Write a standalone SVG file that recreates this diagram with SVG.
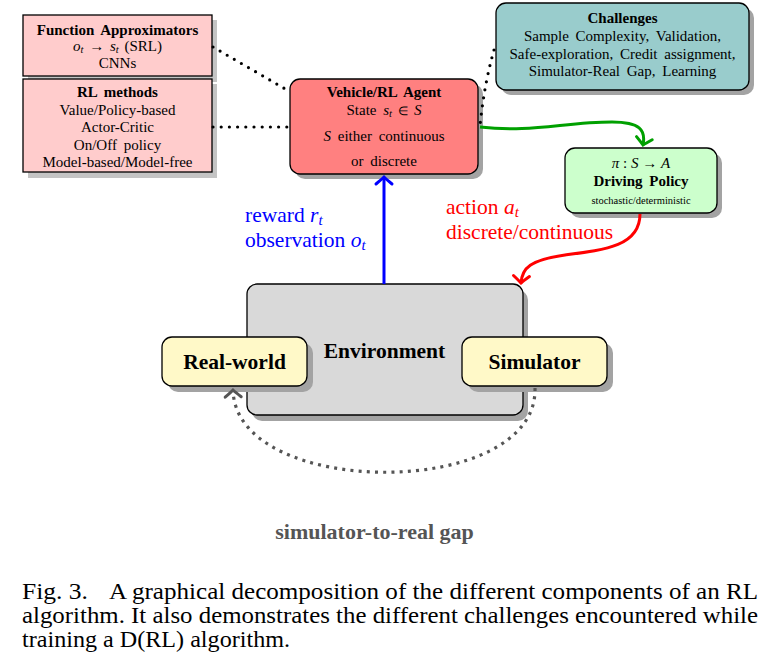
<svg xmlns="http://www.w3.org/2000/svg" width="766" height="659" viewBox="0 0 766 659">
<style>
text{font-family:"Liberation Serif","Times New Roman",serif;fill:#000}
.b{font-weight:bold}
.i{font-style:italic}
.box{stroke:#000;stroke-width:1.3}
.sh{fill:#a3a3a3}
.shl{fill:#c4c4c4}
.dot{fill:none;stroke:#000;stroke-width:3.2;stroke-linecap:round;stroke-dasharray:0 8.2}
</style>
<defs>
<marker id="aB" markerUnits="userSpaceOnUse" markerWidth="20" markerHeight="20" refX="0" refY="0" viewBox="-10 -10 20 20" orient="auto" overflow="visible">
<path d="M-7,-8 Q-2,-2 0,0 Q-2,2 -7,8" fill="none" stroke="#0000ff" stroke-width="3" stroke-linecap="round"/>
</marker>
<marker id="aR" markerUnits="userSpaceOnUse" markerWidth="20" markerHeight="20" refX="0" refY="0" viewBox="-10 -10 20 20" orient="auto" overflow="visible">
<path d="M-7,-8 Q-2,-2 0,0 Q-2,2 -7,8" fill="none" stroke="#ff0000" stroke-width="3" stroke-linecap="round"/>
</marker>
<marker id="aG" markerUnits="userSpaceOnUse" markerWidth="20" markerHeight="20" refX="0" refY="0" viewBox="-10 -10 20 20" orient="auto" overflow="visible">
<path d="M-7,-8 Q-2,-2 0,0 Q-2,2 -7,8" fill="none" stroke="#00a000" stroke-width="3" stroke-linecap="round"/>
</marker>
<marker id="aK" markerUnits="userSpaceOnUse" markerWidth="20" markerHeight="20" refX="0" refY="0" viewBox="-10 -10 20 20" orient="auto" overflow="visible">
<path d="M-7,-8 Q-2,-2 0,0 Q-2,2 -7,8" fill="none" stroke="#555" stroke-width="3" stroke-linecap="round"/>
</marker>
</defs>
<rect width="766" height="659" fill="#fff"/>

<g id="function-approximators">
<rect class="shl" x="28" y="20" width="189" height="62"/>
<rect class="box" x="23" y="15" width="189" height="61" fill="#ffcccc"/>
<text x="117.5" y="35" text-anchor="middle" font-size="15" class="b" word-spacing="3">Function Approximators</text>
<text x="117.5" y="51" text-anchor="middle" font-size="15" word-spacing="2"><tspan class="i">o</tspan><tspan class="i" font-size="10.5" dy="2">t</tspan><tspan dy="-2"> → </tspan><tspan class="i">s</tspan><tspan class="i" font-size="10.5" dy="2">t</tspan><tspan dy="-2"> (SRL)</tspan></text>
<text x="117.5" y="68" text-anchor="middle" font-size="15">CNNs</text>
</g>

<g id="rl-methods">
<rect class="shl" x="28" y="84" width="189" height="94"/>
<rect class="box" x="23" y="79" width="189" height="93" fill="#ffcccc"/>
<text x="117.5" y="97" text-anchor="middle" font-size="15" class="b" word-spacing="3">RL methods</text>
<text x="117.5" y="115" text-anchor="middle" font-size="15">Value/Policy-based</text>
<text x="117.5" y="132" text-anchor="middle" font-size="15">Actor-Critic</text>
<text x="117.5" y="150" text-anchor="middle" font-size="15" word-spacing="3">On/Off policy</text>
<text x="117.5" y="167" text-anchor="middle" font-size="15">Model-based/Model-free</text>
</g>

<g id="agent">
<rect class="sh" x="295" y="84" width="188" height="95" rx="10"/>
<rect class="box" x="290" y="79" width="188" height="95" rx="10" fill="#ff8080"/>
<text x="384" y="97" text-anchor="middle" font-size="15" class="b" word-spacing="3">Vehicle/RL Agent</text>
<text x="384" y="115" text-anchor="middle" font-size="15" word-spacing="3">State <tspan class="i">s</tspan><tspan class="i" font-size="10.5" dy="2">t</tspan><tspan dy="-2" font-size="12"> ∈ </tspan><tspan class="i">S</tspan></text>
<text x="384" y="141" text-anchor="middle" font-size="15" word-spacing="3"><tspan class="i">S</tspan> either continuous</text>
<text x="384" y="166" text-anchor="middle" font-size="15" word-spacing="3">or discrete</text>
</g>

<g id="challenges">
<rect class="sh" x="501" y="8" width="253" height="87" rx="10"/>
<rect class="box" x="496" y="3" width="253" height="87" rx="10" fill="#99cccc"/>
<text x="622.5" y="23" text-anchor="middle" font-size="15" class="b">Challenges</text>
<text x="622.5" y="41" text-anchor="middle" font-size="15" word-spacing="3">Sample Complexity, Validation,</text>
<text x="622.5" y="59" text-anchor="middle" font-size="15" word-spacing="3">Safe-exploration, Credit assignment,</text>
<text x="622.5" y="76" text-anchor="middle" font-size="15" word-spacing="3">Simulator-Real Gap, Learning</text>
</g>

<g id="driving-policy">
<rect class="sh" x="570" y="153" width="152" height="65" rx="10"/>
<rect class="box" x="565" y="148" width="152" height="65" rx="10" fill="#ccffcc"/>
<text x="641" y="168" text-anchor="middle" font-size="15"><tspan class="i">π</tspan> : <tspan class="i">S</tspan> → <tspan class="i">A</tspan></text>
<text x="641" y="186" text-anchor="middle" font-size="15" class="b" word-spacing="3">Driving Policy</text>
<text x="641" y="204" text-anchor="middle" font-size="10.5">stochastic/deterministic</text>
</g>

<g id="environment">
<rect class="sh" x="252" y="290" width="276" height="131" rx="10"/>
<rect class="box" x="247" y="284" width="276" height="131" rx="10" fill="#d9d9d9"/>
<text x="384.5" y="358" text-anchor="middle" font-size="21.5" class="b">Environment</text>
</g>

<g id="real-world">
<rect class="sh" x="168" y="343" width="145" height="49" rx="10"/>
<rect class="box" x="162" y="337" width="145" height="49" rx="10" fill="#fff9c8"/>
<text x="234.5" y="369" text-anchor="middle" font-size="21.5" class="b">Real-world</text>
</g>

<g id="simulator">
<rect class="sh" x="468" y="343" width="145" height="49" rx="10"/>
<rect class="box" x="462" y="337" width="145" height="49" rx="10" fill="#fff9c8"/>
<text x="534.5" y="369" text-anchor="middle" font-size="21.5" class="b">Simulator</text>
</g>

<g id="connectors">
<path class="dot" d="M213,47 L287,90"/>
<path class="dot" d="M213,127 L288,127"/>
<path class="dot" d="M494,50 Q484,85 480,126"/>
<path d="M480,127 C530,133 565,122 612,122 C640,122 646,130 643,145" fill="none" stroke="#00a000" stroke-width="3" marker-end="url(#aG)"/>
<path d="M640,214 C640,246 605,250 565,255 C530,260 522,268 521,283" fill="none" stroke="#ff0000" stroke-width="3" marker-end="url(#aR)"/>
<path d="M384,284 L384,177" fill="none" stroke="#0000ff" stroke-width="3" marker-end="url(#aB)"/>
<path d="M535,388 C538,500 236,500 233,390" fill="none" stroke="#555" stroke-width="3.2" stroke-dasharray="3 5.2" marker-end="url(#aK)"/>
</g>

<g id="labels">
<text x="245" y="222" font-size="21.5" style="fill:#0000ff">reward <tspan class="i">r</tspan><tspan class="i" font-size="15" dy="3">t</tspan></text>
<text x="245" y="247" font-size="21.5" style="fill:#0000ff">observation <tspan class="i">o</tspan><tspan class="i" font-size="15" dy="3">t</tspan></text>
<text x="446" y="214" font-size="21.5" style="fill:#ff0000">action <tspan class="i">a</tspan><tspan class="i" font-size="15" dy="3">t</tspan></text>
<text x="446" y="239" font-size="21.5" style="fill:#ff0000">discrete/continuous</text>
<text x="374.5" y="539" text-anchor="middle" font-size="22" class="b" style="fill:#555">simulator-to-real gap</text>
</g>

<g id="caption">
<text x="22" y="599" font-size="23.5" textLength="66" lengthAdjust="spacingAndGlyphs">Fig. 3.</text>
<text x="109" y="599" font-size="23.5" textLength="649" lengthAdjust="spacingAndGlyphs">A graphical decomposition of the different components of an RL</text>
<text x="22" y="623" font-size="23.5" textLength="736" lengthAdjust="spacingAndGlyphs">algorithm. It also demonstrates the different challenges encountered while</text>
<text x="22" y="647" font-size="23.5" textLength="268" lengthAdjust="spacingAndGlyphs">training a D(RL) algorithm.</text>
</g>
</svg>
